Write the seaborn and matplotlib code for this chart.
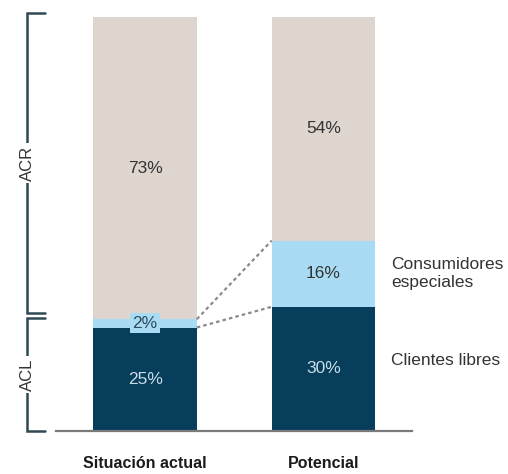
import matplotlib
matplotlib.use("Agg")
import matplotlib.pyplot as plt
import matplotlib.transforms as mtransforms
import numpy as np
import pandas as pd
import seaborn as sns

# Market share by contracting environment
categories = ["Situación actual", "Potencial"]
clientes_libres = [25, 30]
consumidores_especiales = [2, 16]
acr_share = [73, 54]
segment_names = ["Clientes libres", "Consumidores\nespeciales"]

c_dark = "#073e5b"
c_light = "#a9dcf4"
c_beige = "#ddd5ce"

sns.set_theme(style="white")
plt.rcParams["font.family"] = ["Liberation Sans Narrow", "Liberation Sans", "DejaVu Sans"]

fig = plt.figure(figsize=(5.08, 4.74), dpi=100)
ax = fig.add_axes([0.1102, 0.0907, 0.7018, 0.8734])

libres = np.array(clientes_libres)
especiales = np.array(consumidores_especiales)
acr = np.array(acr_share)
cum_esp = libres + especiales
total = cum_esp + acr

df = pd.DataFrame({"cat": categories, "total": total, "cum_esp": cum_esp, "libres": libres})
bar_w = 0.58
sns.barplot(data=df, x="cat", y="total", color=c_beige, saturation=1, width=bar_w, ax=ax, linewidth=0)
sns.barplot(data=df, x="cat", y="cum_esp", color=c_light, saturation=1, width=bar_w, ax=ax, linewidth=0)
sns.barplot(data=df, x="cat", y="libres", color=c_dark, saturation=1, width=bar_w, ax=ax, linewidth=0)

ax.set_xlim(-0.5, 1.5)
ax.set_ylim(0, 100)
ax.set_xlabel("")
ax.set_ylabel("")
ax.set_yticks([])
for s in ["left", "right", "top"]:
    ax.spines[s].set_visible(False)
ax.spines["bottom"].set_color("#7a7a7a")
ax.spines["bottom"].set_linewidth(1.6)
ax.tick_params(axis="x", length=0, pad=18)
for lbl in ax.get_xticklabels():
    lbl.set_fontweight("bold")
    lbl.set_fontsize(11.5)
    lbl.set_color("#1a1a1a")

# segment value labels
fs = 12.5
for i in range(len(categories)):
    ax.text(i, libres[i] / 2, f"{libres[i]}%", ha="center", va="center",
            color="#c9dde8", fontsize=fs)
    ax.text(i, cum_esp[i] + acr[i] / 2, f"{acr[i]}%", ha="center", va="center",
            color="#333333", fontsize=fs)
# small light-blue segment on the first bar gets a boxed label
ax.text(0, libres[0] + especiales[0] / 2, f"{especiales[0]}%", ha="center", va="center",
        color="#2c4b5c", fontsize=fs,
        bbox=dict(boxstyle="square,pad=0.15", fc=c_light, ec="none"))
ax.text(1, libres[1] + especiales[1] / 2, f"{especiales[1]}%", ha="center", va="center",
        color="#333333", fontsize=fs)

# dotted connectors between the light-blue segments
x0 = 0 + bar_w / 2
x1 = 1 - bar_w / 2
for y_a, y_b in [(cum_esp[0], cum_esp[1]), (libres[0], libres[1])]:
    ax.plot([x0, x1], [y_a, y_b], linestyle=(0, (1.6, 1.4)), color="#8a8a8a", lw=1.6,
            clip_on=False)

# segment names on the right
ax.text(1.382, libres[1] + especiales[1] / 2, segment_names[1], ha="left", va="center",
        fontsize=12.5, color="#333333", linespacing=1.2)
ax.text(1.382, libres[1] / 2 + 2, segment_names[0], ha="left", va="center",
        fontsize=12.5, color="#333333")

# brackets for ACR / ACL on the left
trans = mtransforms.blended_transform_factory(ax.transAxes, ax.transData)
bx = -0.0813
bt = -0.031
bcol = "#2f4953"


def bracket(y_lo, y_hi, label):
    ax.plot([bt, bx, bx, bt], [y_lo, y_lo, y_hi, y_hi], color=bcol, lw=1.8,
            transform=trans, clip_on=False, solid_joinstyle="miter")
    ax.text(bx, (y_lo + y_hi) / 2, label, rotation=90, ha="center", va="center",
            fontsize=12, color="#333333", transform=trans,
            bbox=dict(boxstyle="square,pad=0.12", fc="white", ec="none"))


bracket(0, cum_esp[0] + 0.3, "ACL")
bracket(cum_esp[0] + 1.5, 101, "ACR")

fig.savefig("out.png", dpi=100)
